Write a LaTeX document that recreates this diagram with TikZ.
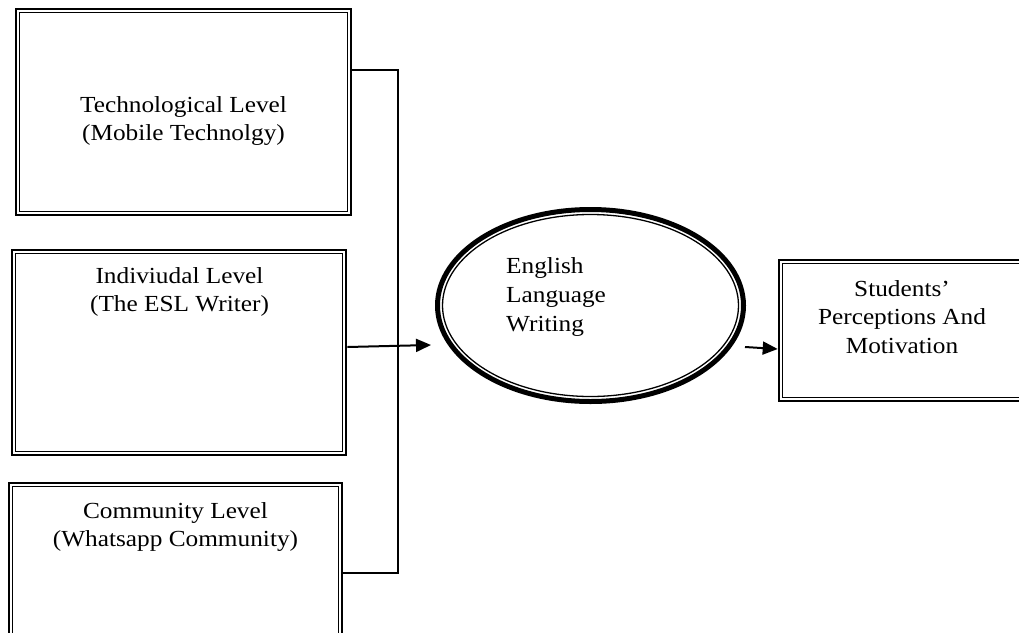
\documentclass[tikz,border=0pt]{standalone}
\usepackage{fontspec}
\setmainfont[FakeStretch=1.1]{Liberation Serif}
\usetikzlibrary{shapes.geometric,arrows.meta}
\begin{document}
\begin{tikzpicture}[x=1pt,y=-1pt,
  lvlbox/.style={draw, line width=2.6pt, rectangle, inner sep=0pt,
    path picture={\draw[line width=1.3pt]
      ([shift={(3.6pt,3.6pt)}]path picture bounding box.south west) rectangle
      ([shift={(-3.6pt,-3.6pt)}]path picture bounding box.north east);}},
  lbl/.style={align=center, font=\fontsize{23}{28.8}\selectfont, inner sep=0pt},
  wire/.style={line width=2pt},
  arr/.style={line width=2pt, -{Triangle[length=15pt,width=13pt]}}]
\useasboundingbox (0,0) rectangle (1019,632);
\clip (0,0) rectangle (1019,632);
% boxes
\node[lvlbox, minimum width=335pt, minimum height=206pt] (b1) at (183.5,112) {};
\node[lvlbox, minimum width=334pt, minimum height=205pt] (b2) at (179,352.5) {};
\node[lvlbox, minimum width=333pt, minimum height=160pt] (b3) at (175.5,563) {};
\node[lvlbox, minimum width=260pt, minimum height=141pt] (b4) at (909,330.5) {};
% ellipse
\node[draw, ellipse, line width=5pt, minimum width=306pt, minimum height=192pt, inner sep=0pt] (ell) at (590.5,305.5) {};
\draw[line width=1.3pt] (ell.center) ellipse [x radius=148pt, y radius=91pt];
% texts
\node[lbl] (t1) at (183.5,121) {Technological Level\\(Mobile Technolgy)};
\node[lbl] (t2) at (179.5,292) {Indiviudal Level\\(The ESL Writer)};
\node[lbl] (t3) at (175.5,527) {Community Level\\(Whatsapp Community)};
\node[lbl] (t4) at (902,317) {Students’\\Perceptions And\\Motivation};
\node[lbl, align=left, anchor=west] (t5) at (506,297) {English\\Language\\Writing};
% connectors
\coordinate (jt) at (398,70);
\coordinate (jb) at (398,573);
\draw[wire] (b1.east |- jt) -- (jt) -- (jb) -- (b3.east |- jb);
\coordinate (a1s) at (347,347);
\coordinate (a1e) at (431,345);
\draw[arr] (b2.east |- a1s) -- (a1e);
\coordinate (a2s) at (745,347);
\coordinate (a2e) at (779,349);
\draw[arr] (a2s) -- (b4.west |- a2e);
\end{tikzpicture}
\end{document}
